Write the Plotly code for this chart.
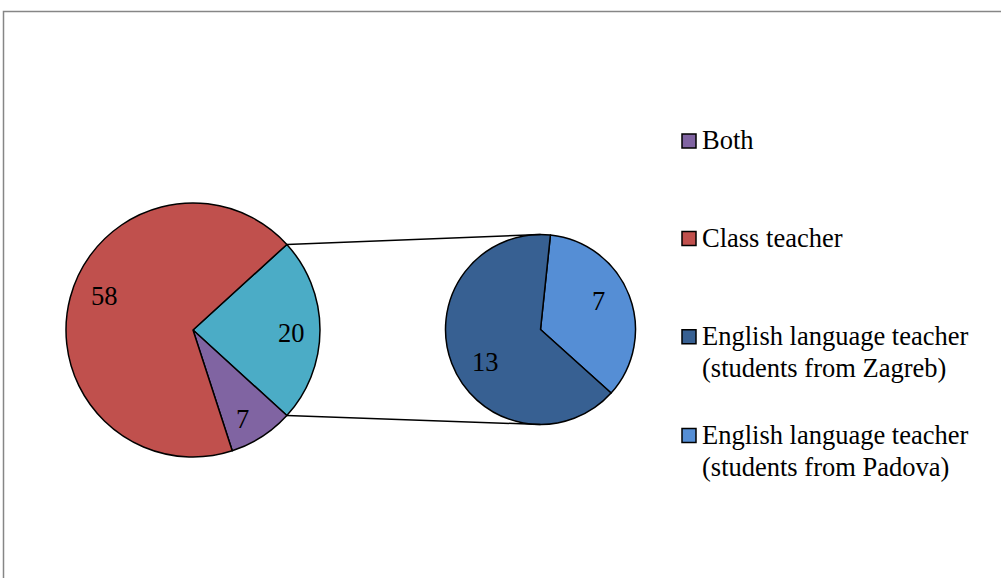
import math
import plotly.graph_objects as go

W, H = 1001, 578

# main pie: the 20 slice is broken out into the secondary pie
main_labels = ["English language teacher", "Both", "Class teacher"]
main_values = [20, 7, 58]

sub_labels = ["English language teacher (students from Padova)",
              "English language teacher (students from Zagreb)"]
sub_values = [7, 13]

legend_labels = [["Both"], ["Class teacher"],
                 ["English language teacher", "(students from Zagreb)"],
                 ["English language teacher", "(students from Padova)"]]

COLORS = {
    "Both": "#8064A2",
    "Class teacher": "#C0504D",
    "English language teacher": "#4BACC6",
    "English language teacher (students from Zagreb)": "#376092",
    "English language teacher (students from Padova)": "#558ED5",
}
LEGEND_COLORS = ["#8064A2", "#C0504D", "#376092", "#558ED5"]

FONT = "Liberation Serif, Times New Roman, serif"
FS = 26.5

# geometry in pixels (center x, center y, radius)
MAIN = (193, 330, 127)
SUB = (540.5, 329.5, 95)
SUB_ROT = 6

# where the value labels sit: fraction of radius, nudge in degrees from mid-angle
MAIN_LBL = [(0.775, 2), (0.80, 3.5), (0.745, 6)]
SUB_LBL = [(0.68, -5.6), (0.67, -10)]


def px(x, y):
    return x / W, 1 - y / H


def domain(c):
    cx, cy, r = c
    return dict(x=[(cx - r) / W, (cx + r) / W], y=[1 - (cy + r) / H, 1 - (cy - r) / H])


def pie_point(c, ang, frac=1.0):
    cx, cy, r = c
    a = math.radians(ang)
    return cx + frac * r * math.sin(a), cy - frac * r * math.cos(a)


# centre the broken-out slice on 3 o'clock
other_span = 360 * main_values[0] / sum(main_values)
main_rot = 90 - other_span / 2

fig = go.Figure()
for labels, values, rot, geo in [(main_labels, main_values, main_rot, MAIN),
                                 (sub_labels, sub_values, SUB_ROT, SUB)]:
    fig.add_trace(go.Pie(
        labels=labels, values=values, sort=False, direction="clockwise",
        rotation=rot, domain=domain(geo),
        marker=dict(colors=[COLORS[l] for l in labels], line=dict(color="black", width=1.5)),
        textinfo="none", showlegend=False, hoverinfo="label+value",
    ))

annotations = []
shapes = []

# value labels
for values, rot, geo, lbl in [(main_values, main_rot, MAIN, MAIN_LBL),
                              (sub_values, SUB_ROT, SUB, SUB_LBL)]:
    tot = sum(values)
    start = rot
    for v, (frac, nudge) in zip(values, lbl):
        span = 360 * v / tot
        x, y = pie_point(geo, start + span / 2 + nudge, frac)
        start += span
        ax, ay = px(x, y)
        annotations.append(dict(text=str(v), x=ax, y=ay, xref="paper", yref="paper",
                                xanchor="center", yanchor="middle", showarrow=False,
                                font=dict(family=FONT, size=FS, color="black")))

# connector lines from the edges of the broken-out slice to the secondary pie
sx, sy, sr = SUB
for ang, ty in [(main_rot, sy - sr), (main_rot + other_span, sy + sr)]:
    x0, y0 = px(*pie_point(MAIN, ang))
    x1, y1 = px(sx, ty)
    shapes.append(dict(type="line", xref="paper", yref="paper", x0=x0, y0=y0, x1=x1, y1=y1,
                       line=dict(color="black", width=1.5)))

# frame
fx0, fy1 = px(3.5, 11.5)
shapes.append(dict(type="rect", xref="paper", yref="paper", x0=fx0, y0=-0.05, x1=1.05, y1=fy1,
                   line=dict(color="#868686", width=1.5)))

# legend, built by hand to match the spacing
legend_y = [141, 238.5, 336.7, 435.5]
LINE = 32
for lines, col, y in zip(legend_labels, LEGEND_COLORS, legend_y):
    x0, y0 = px(682, y - 7)
    x1, y1 = px(696, y + 7)
    shapes.append(dict(type="rect", xref="paper", yref="paper", x0=x0, y0=y0, x1=x1, y1=y1,
                       fillcolor=col, line=dict(color="black", width=1.5)))
    for i, line in enumerate(lines):
        tx, ty = px(700, y - 1 + i * LINE)
        annotations.append(dict(text=line, x=tx, y=ty, xref="paper", yref="paper",
                                xanchor="left", yanchor="middle", align="left", showarrow=False,
                                font=dict(family=FONT, size=FS, color="black")))

fig.update_layout(
    width=W, height=H,
    margin=dict(l=0, r=0, t=0, b=0),
    paper_bgcolor="white", plot_bgcolor="white",
    shapes=shapes, annotations=annotations,
)

fig.write_html("out.html", config={"displayModeBar": False},
               post_script="document.body.style.margin = '0';")
